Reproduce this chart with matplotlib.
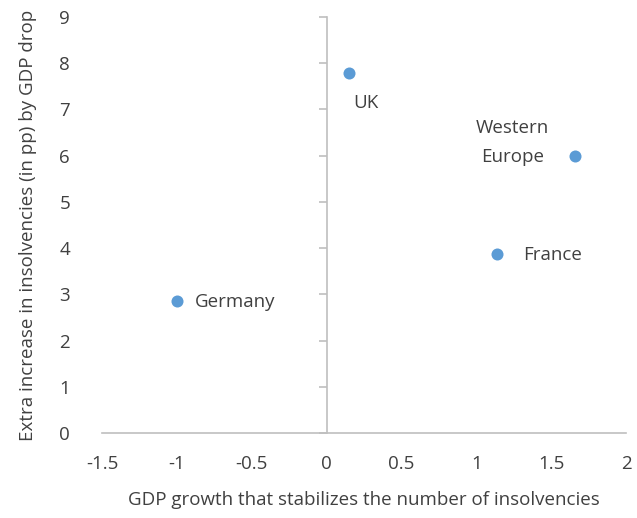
import matplotlib
matplotlib.use("Agg")
import matplotlib.pyplot as plt

countries = ["Germany", "UK", "France", "Western\nEurope"]
gdp_growth = [-1.0, 0.15, 1.14, 1.66]
extra_insolv = [2.85, 7.78, 3.88, 6.0]
x_ticks = [-1.5, -1, -0.5, 0, 0.5, 1, 1.5, 2]
x_tick_labels = ["-1.5", "-1", "-0.5", "0", "0.5", "1", "1.5", "2"]
y_ticks = [0, 1, 2, 3, 4, 5, 6, 7, 8, 9]

plt.rcParams['font.family'] = ['Open Sans', 'DejaVu Sans']
txt = "#404040"
grey = "#BFBFBF"
blue = "#5B9BD5"

fig = plt.figure(figsize=(6.37, 5.18), dpi=100)
ax = fig.add_axes([102/637, (518-433)/518, (626-102)/637, (433-17)/518])
ax.set_xlim(-1.5, 2)
ax.set_ylim(0, 9)

ax.scatter(gdp_growth, extra_insolv, s=75, color=blue, zorder=3, linewidths=0)

offsets = [(18, -1, "left", "center"), (4, -30, "left", "center"),
           (26, -1, "left", "center"), (-26, 13, "right", "center")]
for name, x, y, (dx, dy, ha, va) in zip(countries, gdp_growth, extra_insolv, offsets):
    ax.annotate(name, (x, y), xytext=(dx, dy), textcoords="offset pixels",
                ha=ha, va=va, fontsize=13.5, color=txt, multialignment="center",
                linespacing=1.8)

for s in ["top", "right", "left"]:
    ax.spines[s].set_visible(False)
ax.spines["bottom"].set_color(grey)
ax.spines["bottom"].set_linewidth(1.2)

ax.set_xticks(x_ticks)
ax.set_xticklabels(x_tick_labels)
ax.set_yticks(y_ticks)
ax.tick_params(axis="x", length=0, pad=16, labelsize=13.5, labelcolor=txt)
ax.tick_params(axis="y", length=0, pad=23, labelsize=13.5, labelcolor=txt)

sec = ax.secondary_yaxis(1.5/3.5)
sec.set_yticks(y_ticks)
sec.tick_params(axis="y", length=6, width=1.2, color=grey, labelleft=False, labelright=False)
sec.spines["left"].set_color(grey)
sec.spines["left"].set_linewidth(1.2)
for s in ["right", "top", "bottom"]:
    sec.spines[s].set_visible(False)

ax.set_xlabel("GDP growth that stabilizes the number of insolvencies", fontsize=13.5, color=txt, labelpad=13)
ax.set_ylabel("Extra increase in insolvencies (in pp) by GDP drop", fontsize=13.5, color=txt, labelpad=16)

fig.savefig("out.png", dpi=100)
